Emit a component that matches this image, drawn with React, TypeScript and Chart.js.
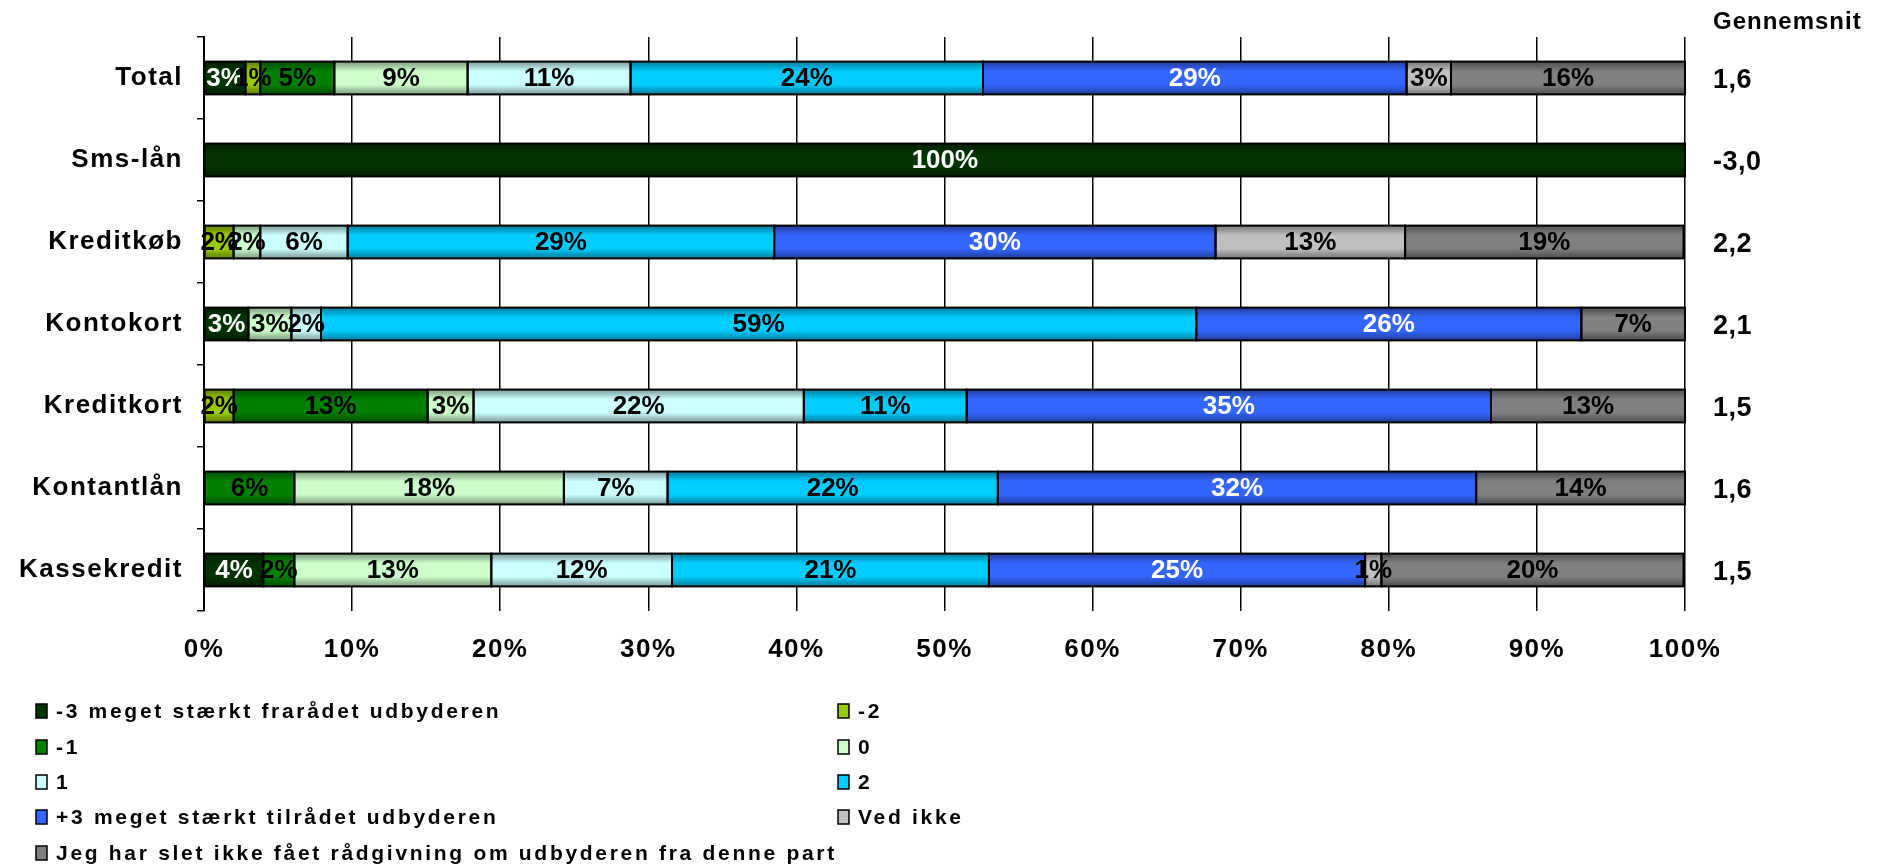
import React, { useEffect, useRef } from 'react';
import { Chart, registerables } from 'chart.js';

Chart.register(...registerables);

const categories = ['Total', 'Sms-lån', 'Kreditkøb', 'Kontokort', 'Kreditkort', 'Kontantlån', 'Kassekredit'];
const seriesNames = [
  '-3 meget stærkt frarådet udbyderen',
  '-2',
  '-1',
  '0',
  '1',
  '2',
  '+3 meget stærkt tilrådet udbyderen',
  'Ved ikke',
  'Jeg har slet ikke fået rådgivning om udbyderen fra denne part',
];
const sMinus3 = [2.8, 100, 0, 3.0, 0, 0, 4.0];
const sMinus2 = [1.0, 0, 2.0, 0, 2.0, 0, 0];
const sMinus1 = [5.0, 0, 0, 0, 13.1, 6.1, 2.1];
const sZero = [9.0, 0, 1.8, 2.9, 3.1, 18.2, 13.3];
const sOne = [11.0, 0, 5.9, 2.0, 22.3, 7.0, 12.2];
const sTwo = [23.8, 0, 28.8, 59.1, 11.0, 22.3, 21.4];
const sPlus3 = [28.6, 0, 29.8, 26.0, 35.4, 32.3, 25.4];
const sVedIkke = [3.0, 0, 12.8, 0, 0, 0, 1.1];
const sIngen = [15.8, 0, 18.8, 7.0, 13.1, 14.1, 20.4];
const averages = ['1,6', '-3,0', '2,2', '2,1', '1,5', '1,6', '1,5'];
const averageHeader = 'Gennemsnit';

const seriesValues = [sMinus3, sMinus2, sMinus1, sZero, sOne, sTwo, sPlus3, sVedIkke, sIngen];
const seriesColors = ['#003300', '#99cc00', '#008000', '#ccffcc', '#ccffff', '#00ccff', '#3366ff', '#c0c0c0', '#808080'];
const whiteLabelSeries = [0, 6];

const FONT = '"Liberation Sans", Arial, Helvetica, sans-serif';

const spacingPlugin = {
  id: 'spacing',
  beforeDraw(chart: any) {
    (chart.ctx as any).letterSpacing = '1.5px';
  },
};

const shadePlugin = {
  id: 'shade',
  afterDatasetsDraw(chart: any) {
    const ctx = chart.ctx;
    chart.data.datasets.forEach((ds: any, di: number) => {
      const meta = chart.getDatasetMeta(di);
      meta.data.forEach((el: any, i: number) => {
        const v = ds.data[i];
        if (v == null) return;
        const p = el.getProps(['x', 'y', 'base', 'height'], true);
        const left = Math.min(p.x, p.base);
        const w = Math.abs(p.x - p.base);
        const top = p.y - p.height / 2;
        const g = ctx.createLinearGradient(0, top, 0, top + p.height);
        g.addColorStop(0, 'rgba(0,0,0,0.4)');
        g.addColorStop(0.3, 'rgba(0,0,0,0)');
        g.addColorStop(0.7, 'rgba(0,0,0,0)');
        g.addColorStop(1, 'rgba(0,0,0,0.4)');
        ctx.save();
        ctx.fillStyle = g;
        ctx.fillRect(left, top, w, p.height);
        ctx.strokeStyle = '#000';
        ctx.lineWidth = 2;
        ctx.strokeRect(left, top, w, p.height);
        ctx.restore();
      });
    });
  },
};

const labelPlugin = {
  id: 'segLabels',
  afterDatasetsDraw(chart: any) {
    const ctx = chart.ctx;
    ctx.save();
    (ctx as any).letterSpacing = '0px';
    ctx.font = `bold 26px ${FONT}`;
    ctx.textAlign = 'center';
    ctx.textBaseline = 'middle';
    chart.data.datasets.forEach((ds: any, di: number) => {
      const meta = chart.getDatasetMeta(di);
      meta.data.forEach((el: any, i: number) => {
        const v = ds.data[i];
        if (v == null) return;
        const p = el.getProps(['x', 'y', 'base'], true);
        ctx.fillStyle = whiteLabelSeries.includes(di) ? '#fff' : '#000';
        ctx.fillText(Math.round(v) + '%', (p.x + p.base) / 2, p.y + 1);
      });
    });
    ctx.restore();
  },
};

const extrasPlugin = {
  id: 'extras',
  afterDraw(chart: any) {
    const ctx = chart.ctx;
    const yScale = chart.scales.y;
    ctx.save();
    (ctx as any).letterSpacing = '1px';
    ctx.fillStyle = '#000';
    ctx.textBaseline = 'middle';
    ctx.textAlign = 'left';
    ctx.font = `bold 24px ${FONT}`;
    ctx.fillText(averageHeader, 1713, 22);
    (ctx as any).letterSpacing = '0.5px';
    ctx.font = `bold 27px ${FONT}`;
    averages.forEach((a, i) => {
      ctx.fillText(a, 1713, yScale.getPixelForTick(i) + 3);
    });
    // legend
    (ctx as any).letterSpacing = '2.7px';
    ctx.font = `bold 21px ${FONT}`;
    const colX = [36, 838];
    const rowY = [711, 747, 782, 817, 853];
    seriesNames.forEach((name, i) => {
      const bx = colX[i % 2];
      const by = rowY[Math.floor(i / 2)];
      ctx.fillStyle = seriesColors[i];
      ctx.fillRect(bx, by - 7, 11, 14);
      ctx.strokeStyle = '#000';
      ctx.lineWidth = 1.5;
      ctx.strokeRect(bx, by - 7, 11, 14);
      ctx.fillStyle = '#000';
      ctx.fillText(name, bx + 20, by + 1);
    });
    ctx.restore();
  },
};

export default function App() {
  const canvasRef = useRef<HTMLCanvasElement | null>(null);

  useEffect(() => {
    if (!canvasRef.current) return;
    Chart.defaults.font.family = FONT;
    const datasets = seriesNames.map((name, i) => ({
      label: name,
      data: seriesValues[i].map((v) => (v > 0 ? v : null)),
      backgroundColor: seriesColors[i],
      borderColor: '#000',
      borderWidth: 0,
      borderSkipped: false,
      categoryPercentage: 1,
      barPercentage: 0.4,
    }));
    const chart = new Chart(canvasRef.current, {
      type: 'bar',
      data: { labels: categories, datasets },
      plugins: [spacingPlugin, shadePlugin, labelPlugin, extrasPlugin],
      options: {
        indexAxis: 'y',
        animation: false,
        responsive: true,
        maintainAspectRatio: false,
        layout: { padding: { top: 37, bottom: 208, left: 0, right: 201 } },
        plugins: { legend: { display: false }, tooltip: { enabled: false } },
        scales: {
          x: {
            stacked: true,
            min: 0,
            max: 100,
            position: 'bottom',
            ticks: {
              stepSize: 10,
              callback: (v: any) => v + '%',
              color: '#000',
              font: { size: 26, weight: 'bold' },
              padding: 23,
              maxRotation: 0,
              autoSkip: false,
            },
            grid: { color: '#000', lineWidth: 1.5, drawTicks: false },
            border: { display: false },
            afterFit: (s: any) => {
              s.height = 46;
            },
          },
          y: {
            stacked: true,
            position: 'left',
            ticks: { color: '#000', font: { size: 26, weight: 'bold' }, padding: 14, autoSkip: false },
            grid: { drawOnChartArea: false, color: '#000', lineWidth: 1.5, tickLength: 7, offset: true },
            border: { display: true, color: '#000', width: 2 },
            afterFit: (s: any) => {
              s.width = 204;
            },
          },
        },
      } as any,
    });
    return () => chart.destroy();
  }, []);

  return (
    <div style={{ position: 'fixed', left: 0, top: 0, width: '1886px', height: '865px', background: '#fff' }}>
      <canvas ref={canvasRef} />
    </div>
  );
}
